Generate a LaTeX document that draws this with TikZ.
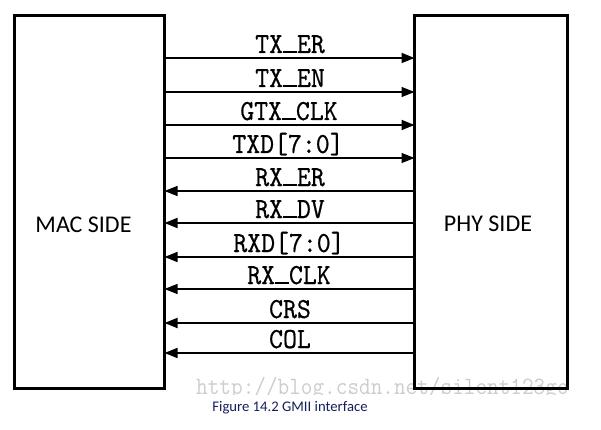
\documentclass[tikz,border=0pt]{standalone}
\usepackage{fontspec}
\setmainfont{Carlito}
\newfontfamily\sigfont{lmmono10-regular}[Extension=.otf, FakeBold=0.6]
\usetikzlibrary{arrows.meta}
\definecolor{capblue}{RGB}{20,30,90}
\definecolor{wmgray}{RGB}{205,205,205}
\tikzset{
  sidebox/.style={draw=black, line width=3pt, fill=none, rectangle, inner sep=0pt, outer sep=0pt},
  sidelabel/.style={font=\fontsize{24}{26}\selectfont, text=black, inner sep=0pt},
  siglabel/.style={anchor=base, inner sep=0pt, font=\sigfont\fontsize{26.5}{27}\selectfont},
  thickwire/.style={line width=1.8pt},
  midwire/.style={line width=1.5pt},
  thinwire/.style={line width=1.1pt},
  tip/.style={-{Triangle[length=13pt,width=10pt]}},
}
\newcommand{\siglab}[1]{\scalebox{1}[1.1]{#1}}
\newcommand{\us}{\makebox[0.525em]{\rule[0.01em]{0.5em}{0.055em}}}
\begin{document}
\begin{tikzpicture}[x=1pt,y=-1pt]
\useasboundingbox (0,0) rectangle (601,430);
% watermark
\begin{scope}
\clip (150,370) rectangle (577,394);
\node[anchor=base west, inner sep=0pt, text depth=0pt, text=wmgray, font=\ttfamily\fontsize{22.6}{23}\selectfont] (wm) at (196,394) {\scalebox{1}[1.1]{http://blog.csdn.net/silent123go}};
\end{scope}
% boxes
\node[sidebox, minimum width=150.5pt, minimum height=373pt] (mac) at (89.25,202) {};
\node[sidebox, minimum width=152.5pt, minimum height=373pt] (phy) at (490.75,202) {};
\node[sidelabel] (macl) at (83.5,225) {MAC SIDE};
\node[sidelabel] (phyl) at (488,224) {PHY SIDE};
% wire coordinates
\foreach \n/\y in {a/58,b/92,c/125,d/158,e/191,f/223,g/257,h/289,i/323,j/353}{
  \coordinate (y\n) at (0,\y);
}
% MAC -> PHY
\draw[tip,thickwire] (mac.east |- ya) -- (phy.west |- ya);
\draw[tip,thinwire]  (mac.east |- yb) -- (phy.west |- yb);
\draw[tip,thickwire] (mac.east |- yc) -- (phy.west |- yc);
\draw[tip,thinwire]  (mac.east |- yd) -- (phy.west |- yd);
% PHY -> MAC
\draw[tip,thinwire]  (phy.west |- ye) -- (mac.east |- ye);
\draw[tip,thickwire] (phy.west |- yf) -- (mac.east |- yf);
\draw[tip,midwire]   (phy.west |- yg) -- (mac.east |- yg);
\draw[tip,thinwire]  (phy.west |- yh) -- (mac.east |- yh);
\draw[tip,thickwire] (phy.west |- yi) -- (mac.east |- yi);
\draw[tip,midwire]   (phy.west |- yj) -- (mac.east |- yj);
% signal labels
\node[siglabel] (la) at (290,53)  {\siglab{TX\us ER}};
\node[siglabel] (lb) at (290,87)  {\siglab{TX\us EN}};
\node[siglabel] (lc) at (289,120) {\siglab{GTX\us CLK}};
\node[siglabel] (ld) at (288,153) {\siglab{TXD[7:0]}};
\node[siglabel] (le) at (290,186) {\siglab{RX\us ER}};
\node[siglabel] (lf) at (290,218) {\siglab{RX\us DV}};
\node[siglabel] (lg) at (289,252) {\siglab{RXD[7:0]}};
\node[siglabel] (lh) at (289,284) {\siglab{RX\us CLK}};
\node[siglabel] (li) at (290,318) {\siglab{CRS}};
\node[siglabel] (lj) at (290,348) {\siglab{COL}};
% caption
\node[text=capblue, inner sep=0pt, font=\fontsize{14.7}{15}\selectfont] (cap) at (290,408) {Figure 14.2 GMII interface};
\end{tikzpicture}
\end{document}
